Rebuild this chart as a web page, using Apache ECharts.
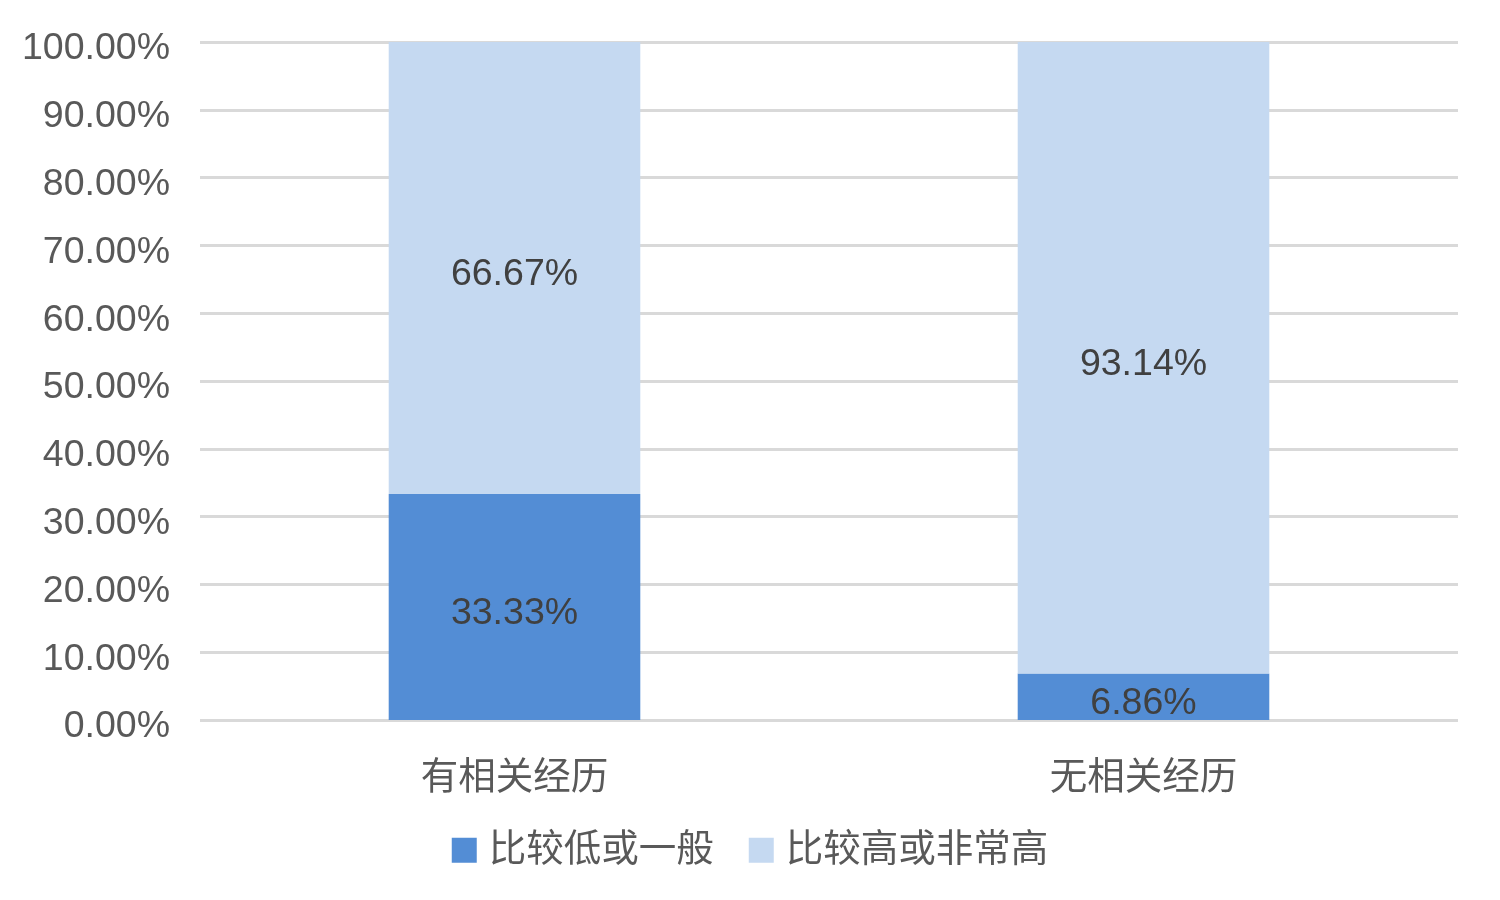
<!DOCTYPE html>
<html>
<head>
<meta charset="utf-8">
<script src="https://cdn.jsdelivr.net/npm/echarts@6/dist/echarts.min.js"></script>
<style>html,body{margin:0;padding:0;background:#fff;}#c{width:1500px;height:900px;}</style>
</head>
<body>
<div id="c"></div>
<script>
const categories = ['有相关经历', '无相关经历'];
const seriesNames = ['比较低或一般', '比较高或非常高'];
const lowValues = [33.33, 6.86];
const highValues = [66.67, 93.14];
const colors = ['#538DD5', '#C5D9F1'];
const FONT = "'Liberation Sans', 'Noto Sans CJK SC', sans-serif";

const chart = echarts.init(document.getElementById('c'));
const labelCfg = {
  show: true, position: 'inside', offset: [0, 7], color: '#404040', fontSize: 37.5, fontFamily: FONT,
  formatter: p => p.value.toFixed(2) + '%'
};
chart.setOption({
  animation: false,
  textStyle: { fontFamily: FONT },
  grid: { left: 200, right: 42, top: 42, bottom: 180, containLabel: false },
  legend: {
    bottom: 26, left: 'center', itemWidth: 25, itemHeight: 25, itemGap: 35,
    icon: 'rect',
    textStyle: { fontSize: 37.5, color: '#595959', fontFamily: FONT, padding: [0, 0, 0, 7] },
    data: seriesNames
  },
  xAxis: {
    type: 'category', data: categories,
    axisLine: { show: false }, axisTick: { show: false },
    axisLabel: { fontSize: 37.5, color: '#595959', margin: 40, fontFamily: FONT }
  },
  yAxis: {
    type: 'value', min: 0, max: 100, interval: 10,
    axisLine: { show: false }, axisTick: { show: false },
    splitLine: { lineStyle: { color: '#D9D9D9', width: 3 } },
    axisLabel: { fontSize: 37.5, color: '#595959', margin: 30, fontFamily: FONT,
      formatter: v => '{v|' + v.toFixed(2) + '%}',
      rich: { v: { fontSize: 37.5, color: '#595959', fontFamily: FONT, padding: [14, 0, 0, 0] } } }
  },
  series: [
    { name: seriesNames[0], type: 'bar', stack: 'a', barWidth: '40%', data: lowValues,
      itemStyle: { color: colors[0] }, label: labelCfg },
    { name: seriesNames[1], type: 'bar', stack: 'a', barWidth: '40%', data: highValues,
      itemStyle: { color: colors[1] }, label: labelCfg }
  ]
});
</script>
</body>
</html>
